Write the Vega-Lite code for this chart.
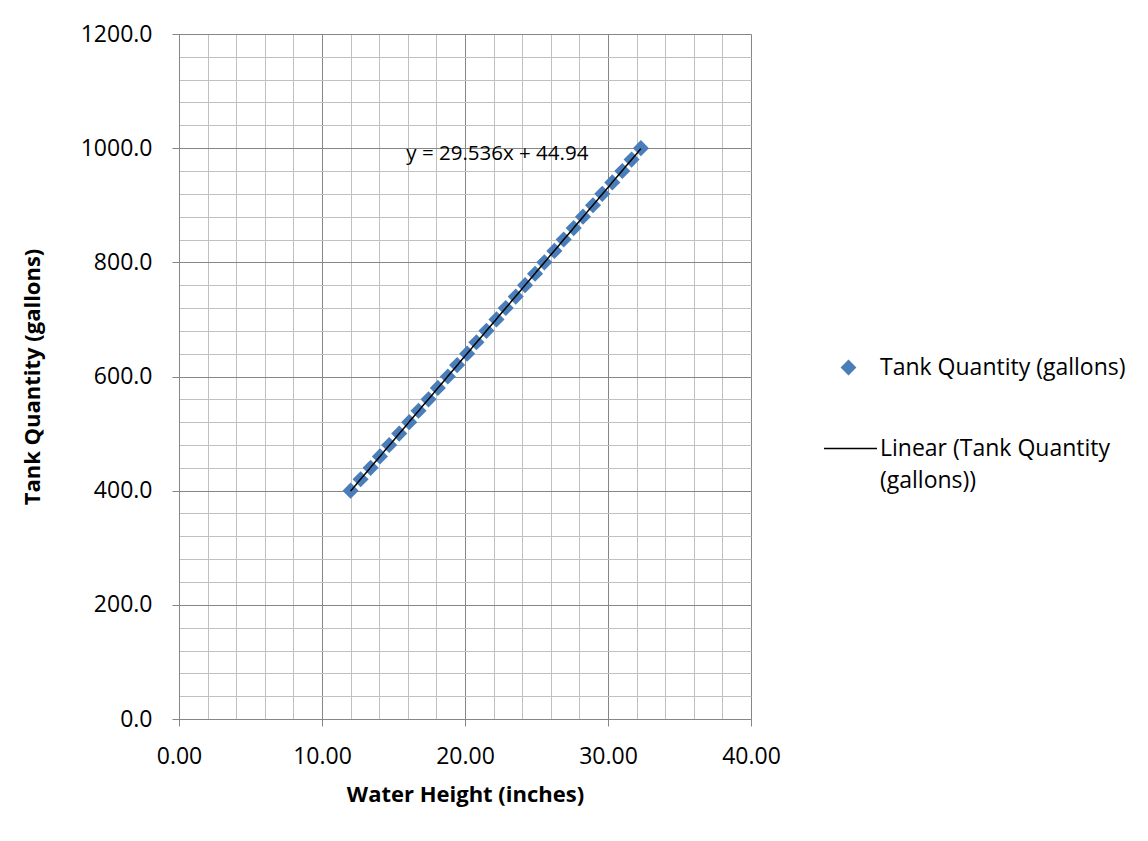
{
  "$schema": "https://vega.github.io/schema/vega-lite/v6.json",
  "width": 572,
  "height": 685,
  "autosize": {"type": "none"},
  "padding": {"left": 179, "top": 34, "right": 397, "bottom": 122},
  "background": "white",
  "config": {
    "font": "Open Sans",
    "view": {"stroke": null},
    "axis": {
      "labelFont": "Open Sans",
      "titleFont": "Open Sans",
      "labelColor": "black",
      "titleColor": "black"
    },
    "legend": {"labelFont": "Open Sans", "labelColor": "black"}
  },
  "resolve": {"axis": {"x": "independent", "y": "independent"}},
  "datasets": {
    "tank": [
      {"height": 12.0, "gallons": 400},
      {"height": 12.7, "gallons": 420},
      {"height": 13.4, "gallons": 440},
      {"height": 14.05, "gallons": 460},
      {"height": 14.7, "gallons": 480},
      {"height": 15.4, "gallons": 500},
      {"height": 16.1, "gallons": 520},
      {"height": 16.75, "gallons": 540},
      {"height": 17.45, "gallons": 560},
      {"height": 18.1, "gallons": 580},
      {"height": 18.8, "gallons": 600},
      {"height": 19.45, "gallons": 620},
      {"height": 20.15, "gallons": 640},
      {"height": 20.8, "gallons": 660},
      {"height": 21.5, "gallons": 680},
      {"height": 22.2, "gallons": 700},
      {"height": 22.85, "gallons": 720},
      {"height": 23.55, "gallons": 740},
      {"height": 24.2, "gallons": 760},
      {"height": 24.9, "gallons": 780},
      {"height": 25.55, "gallons": 800},
      {"height": 26.25, "gallons": 820},
      {"height": 26.9, "gallons": 840},
      {"height": 27.6, "gallons": 860},
      {"height": 28.25, "gallons": 880},
      {"height": 28.95, "gallons": 900},
      {"height": 29.6, "gallons": 920},
      {"height": 30.3, "gallons": 940},
      {"height": 31.0, "gallons": 960},
      {"height": 31.65, "gallons": 980},
      {"height": 32.3, "gallons": 1000}
    ],
    "eq": [{"height": 15.9, "gallons": 990, "label": "y = 29.536x + 44.94"}]
  },
  "layer": [
    {
      "data": {"name": "tank"},
      "mark": {"type": "point", "opacity": 0},
      "encoding": {
        "x": {
          "field": "height", "type": "quantitative",
          "scale": {"domain": [0, 40], "nice": false, "zero": false},
          "axis": {
            "orient": "bottom",
            "values": [0,2,4,6,8,10,12,14,16,18,20,22,24,26,28,30,32,34,36,38,40],
            "grid": true, "gridColor": "#c0c0c0", "gridWidth": 1, "gridOpacity": 1,
            "labels": false, "ticks": false, "domain": false, "title": null
          }
        },
        "y": {
          "field": "gallons", "type": "quantitative",
          "scale": {"domain": [0, 1200], "nice": false, "zero": false},
          "axis": {
            "orient": "left",
            "values": [0,40,80,120,160,200,240,280,320,360,400,440,480,520,560,600,640,680,720,760,800,840,880,920,960,1000,1040,1080,1120,1160,1200],
            "grid": true, "gridColor": "#c0c0c0", "gridWidth": 1, "gridOpacity": 1,
            "labels": false, "ticks": false, "domain": false, "title": null
          }
        }
      }
    },
    {
      "data": {"name": "tank"},
      "mark": {"type": "point", "shape": "diamond", "filled": true, "size": 260, "opacity": 1},
      "encoding": {
        "x": {"field": "height", "type": "quantitative", "axis": null},
        "y": {"field": "gallons", "type": "quantitative", "axis": null},
        "color": {
          "datum": "Tank Quantity (gallons)", "type": "nominal",
          "scale": {"range": ["#4a7ebb"]},
          "legend": {
            "title": null,
            "orient": "none",
            "legendX": 658,
            "legendY": 322,
            "padding": 0,
            "symbolSize": 250,
            "symbolOpacity": 1,
            "labelFontSize": 23,
            "labelOffset": 20,
            "labelLimit": 400
          }
        }
      }
    },
    {
      "data": {"name": "tank"},
      "transform": [{"regression": "gallons", "on": "height"}],
      "mark": {"type": "line", "color": "black", "strokeWidth": 1.5},
      "encoding": {
        "x": {
          "field": "height", "type": "quantitative",
          "axis": {
            "orient": "bottom",
            "values": [0, 10, 20, 30, 40],
            "format": ".2f",
            "grid": true, "gridColor": "#868686", "gridWidth": 1, "gridOpacity": 1,
            "domain": true, "domainColor": "#868686", "domainWidth": 1,
            "ticks": true, "tickColor": "#868686", "tickSize": 7,
            "labelFontSize": 23, "labelPadding": 19, "labelFlush": false,
            "title": "Water Height (inches)", "titleFontSize": 22, "titleFontWeight": "bold", "titlePadding": 16
          }
        },
        "y": {
          "field": "gallons", "type": "quantitative",
          "axis": {
            "orient": "left",
            "values": [0, 200, 400, 600, 800, 1000, 1200],
            "format": ".1f",
            "grid": true, "gridColor": "#868686", "gridWidth": 1, "gridOpacity": 1,
            "domain": true, "domainColor": "#868686", "domainWidth": 1,
            "ticks": true, "tickColor": "#868686", "tickSize": 7,
            "labelFontSize": 23, "labelPadding": 20, "labelFlush": false,
            "title": "Tank Quantity (gallons)", "titleFontSize": 22, "titleFontWeight": "bold", "titlePadding": 36
          }
        },
        "strokeDash": {
          "datum": "Linear (Tank Quantity (gallons))", "type": "nominal",
          "scale": {"range": [[1, 0]]},
          "legend": {
            "title": null,
            "orient": "none",
            "legendX": 644,
            "legendY": 387,
            "padding": 0,
            "symbolSize": 2809,
            "symbolStrokeColor": "black",
            "symbolStrokeWidth": 1.5,
            "labelFontSize": 23,
            "labelOffset": 2,
            "labelLimit": 400,
            "labelBaseline": "top",
            "labelExpr": "['Linear (Tank Quantity', '(gallons))']",
            "encode": {
              "labels": {"update": {"dy": {"value": -11}, "lineHeight": {"value": 32}}}
            }
          }
        }
      }
    },
    {
      "data": {"name": "eq"},
      "mark": {"type": "text", "align": "left", "baseline": "middle", "fontSize": 20.5, "color": "black", "font": "Open Sans"},
      "encoding": {
        "x": {"field": "height", "type": "quantitative", "axis": null},
        "y": {"field": "gallons", "type": "quantitative", "axis": null},
        "text": {"field": "label"}
      }
    }
  ]
}
